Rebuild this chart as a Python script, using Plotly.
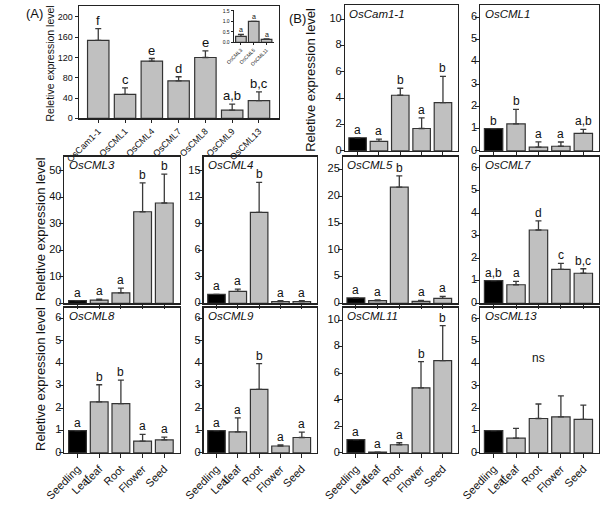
import plotly.graph_objects as go

W, H = 600, 512

# ---------------- data ----------------
genes_A = ["OsCam1-1", "OsCML1", "OsCML4", "OsCML7", "OsCML8", "OsCML9", "OsCML13"]
vals_A = [154, 47, 113, 74, 120, 16, 35]
err_A = [23, 13, 5, 8, 13, 12, 17]
letters_A = ["f", "c", "e", "d", "e", "a,b", "b,c"]

genes_inset = ["OsCML3", "OsCML5", "OsCML11"]
vals_inset = [0.29, 1.0, 0.14]
err_inset = [0.09, None, 0.03]
letters_inset = ["a", "a", "a"]

tissues = ["Seedling<br>Leaf", "Leaf", "Root", "Flower", "Seed"]

cam11_vals = [1.0, 0.72, 4.22, 1.7, 3.66]
cam11_err = [None, 0.18, 0.53, 0.81, 1.99]
cam11_let = ["a", "a", "b", "a", "b"]
cam11_ticks = [0, 2, 4, 6, 8, 10]

cml1_vals = [1.0, 1.21, 0.17, 0.21, 0.79]
cml1_err = [None, 0.65, 0.24, 0.19, 0.18]
cml1_let = ["b", "b", "a", "a", "a,b"]
cml1_ticks = [0, 1, 2, 3, 4, 5, 6]

cml3_vals = [1.0, 1.2, 3.9, 34.6, 37.9]
cml3_err = [None, 0.35, 1.8, 10.9, 10.9]
cml3_let = ["a", "a", "a", "b", "b"]
cml3_ticks = [0, 10, 20, 30, 40, 50]

cml4_vals = [1.0, 1.35, 10.3, 0.2, 0.2]
cml4_err = [None, 0.25, 3.4, 0.1, 0.1]
cml4_let = ["a", "a", "b", "a", "a"]
cml4_ticks = [0, 3, 6, 9, 12, 15]

cml5_vals = [1.0, 0.5, 21.7, 0.35, 0.9]
cml5_err = [None, 0.15, 2.1, 0.2, 0.4]
cml5_let = ["a", "a", "b", "a", "a"]
cml5_ticks = [0, 5, 10, 15, 20, 25]

cml7_vals = [1.0, 0.82, 3.25, 1.5, 1.33]
cml7_err = [None, 0.15, 0.4, 0.27, 0.2]
cml7_let = ["a,b", "a", "d", "c", "b,c"]
cml7_ticks = [0, 1, 2, 3, 4, 5, 6]

cml8_vals = [1.0, 2.28, 2.2, 0.53, 0.58]
cml8_err = [None, 0.76, 1.05, 0.3, 0.13]
cml8_let = ["a", "b", "b", "a", "a"]
cml8_ticks = [0, 1, 2, 3, 4, 5, 6]

cml9_vals = [1.0, 0.94, 2.83, 0.31, 0.69]
cml9_err = [None, 0.62, 1.15, 0.05, 0.24]
cml9_let = ["a", "a", "b", "a", "a"]
cml9_ticks = [0, 1, 2, 3, 4, 5, 6]

cml11_vals = [1.0, 0.07, 0.62, 4.91, 6.96]
cml11_err = [None, None, 0.15, 1.97, 2.63]
cml11_let = ["a", "a", "a", "b", "b"]
cml11_ticks = [0, 2, 4, 6, 8, 10]

cml13_vals = [1.0, 0.66, 1.54, 1.61, 1.5]
cml13_err = [None, 0.44, 0.65, 0.94, 0.64]
cml13_let = [None, None, None, None, None]
cml13_ticks = [0, 1, 2, 3, 4, 5, 6]

ylabel = "Reletive expression level"

# ------------- layout helpers -------------
def xd(a, b):
    return [a / W, b / W]

def yd(top, bottom):
    return [1 - bottom / H, 1 - top / H]

FONT = "Liberation Sans, Arial, sans-serif"
AX = "#222222"
BARGRAY = "#c0c0c0"
EDGE = "#333333"

fig = go.Figure()
layout = dict(
    width=W, height=H, margin=dict(l=0, r=0, t=0, b=0),
    paper_bgcolor="white", plot_bgcolor="rgba(0,0,0,0)", showlegend=False,
    font=dict(family=FONT, color="#111"),
)
annotations = []

def add_panel(idx, vals, errs, letters, cats, xdom, ydom, xrange, yrange, dtick,
              title=None, show_xlabels=False, tickfont=10, letfont=12, mirror=True,
              width=0.82, colors=None, ticklen=4, yfmt=None, xangle=-45, linew=1.3,
              yticks=None):
    xa = "x" if idx == 1 else f"x{idx}"
    ya = "y" if idx == 1 else f"y{idx}"
    n = len(vals)
    xs = list(range(n))
    if colors is None:
        colors = ["black"] + [BARGRAY] * (n - 1)
    arr = [e if e is not None else float("nan") for e in errs]
    fig.add_trace(go.Bar(
        x=xs, y=vals, width=[width] * n, xaxis=xa, yaxis=ya,
        marker=dict(color=colors, line=dict(color=EDGE, width=1.2)),
        error_y=dict(type="data", symmetric=False, array=arr, arrayminus=[0] * n,
                     color="#3a3a3a", thickness=1.3, width=max(2, int(width * 4))),
        hoverinfo="skip",
    ))
    key_x = "xaxis" if idx == 1 else f"xaxis{idx}"
    key_y = "yaxis" if idx == 1 else f"yaxis{idx}"
    layout[key_x] = dict(
        domain=xdom, anchor=ya, range=xrange, tickmode="array", tickvals=xs,
        ticktext=cats if show_xlabels else [""] * n, showticklabels=show_xlabels,
        tickangle=xangle, ticks="outside", ticklen=ticklen, tickcolor=AX, tickwidth=1,
        showline=True, linecolor=AX, linewidth=linew, mirror=mirror, showgrid=False,
        zeroline=False, tickfont=dict(size=tickfont, color="#111", family=FONT),
        fixedrange=True, ticklabeloverflow="allow",
    )
    yax = dict(
        domain=ydom, anchor=xa, range=yrange,
        ticks="outside", ticklen=ticklen, tickcolor=AX, tickwidth=1,
        showline=True, linecolor=AX, linewidth=linew, mirror=mirror, showgrid=False,
        zeroline=False, tickfont=dict(size=tickfont, color="#111", family=FONT),
        fixedrange=True, ticklabeloverflow="allow",
    )
    if yticks is None:
        yax.update(dtick=dtick, tick0=0, showticklabels=True)
    else:
        # tick marks from the axis; label text as a text trace on the same scales
        yax.update(tickmode="array", tickvals=yticks, showticklabels=False)
        fig.add_trace(go.Scatter(
            x=[xrange[0]] * len(yticks), y=yticks, xaxis=xa, yaxis=ya,
            mode="text", text=[f"{t}\u00a0" for t in yticks],
            textposition="middle left", cliponaxis=False, hoverinfo="skip",
            textfont=dict(size=tickfont, color="#111", family=FONT),
        ))
    if yfmt:
        yax["tickformat"] = yfmt
    layout[key_y] = yax
    for i, (v, e, L) in enumerate(zip(vals, errs, letters)):
        if L is None:
            continue
        annotations.append(dict(
            x=i, y=v + (e or 0), xref=xa, yref=ya, text=L, showarrow=False,
            yanchor="bottom", xanchor="center", yshift=-1,
            font=dict(size=letfont, color="#111", family=FONT)))
    if title:
        annotations.append(dict(
            x=0.02, y=0.995, xref=f"{xa} domain", yref=f"{ya} domain",
            text=f"<i>{title}</i>", showarrow=False, xanchor="left", yanchor="top",
            font=dict(size=11.5, color="#111", family=FONT)))

# Panel A
add_panel(1, vals_A, err_A, letters_A, genes_A, xd(61, 268), yd(4, 121),
          [-0.72, 6.75], [0, 222], 40, show_xlabels=True, tickfont=9,
          letfont=13, width=0.8, colors=[BARGRAY] * 7, ticklen=3)
# Inset
add_panel(2, vals_inset, err_inset, letters_inset, genes_inset, xd(221, 263),
          yd(8.2, 42), [-0.57, 2.6], [0, 1.55], 0.5, show_xlabels=True,
          tickfont=5, letfont=7, mirror=False, width=0.83,
          colors=[BARGRAY] * 3, ticklen=2, yfmt=".1f", linew=1)

panels = [
    ("OsCam1-1", cam11_vals, cam11_err, cam11_let, cam11_ticks, (336, 453), (3, 155), [0, 11.07]),
    ("OsCML1", cml1_vals, cml1_err, cml1_let, cml1_ticks, (476, 599), (3, 155), [0, 6.55]),
    ("OsCML3", cml3_vals, cml3_err, cml3_let, cml3_ticks, (46, 165), (161, 313.5), [0, 55.4]),
    ("OsCML4", cml4_vals, cml4_err, cml4_let, cml4_ticks, (190, 307), (161, 313.5), [0, 16.6]),
    ("OsCML5", cml5_vals, cml5_err, cml5_let, cml5_ticks, (334, 453), (161, 313.5), [0, 27.4]),
    ("OsCML7", cml7_vals, cml7_err, cml7_let, cml7_ticks, (476, 599), (161, 313.5), [0, 6.5]),
    ("OsCML8", cml8_vals, cml8_err, cml8_let, cml8_ticks, (46, 165), (318, 469.3), [0, 6.48]),
    ("OsCML9", cml9_vals, cml9_err, cml9_let, cml9_ticks, (190, 307), (318, 469.3), [0, 6.48]),
    ("OsCML11", cml11_vals, cml11_err, cml11_let, cml11_ticks, (334, 453), (318, 469.3), [0, 10.95]),
    ("OsCML13", cml13_vals, cml13_err, cml13_let, cml13_ticks, (476, 599), (318, 469.3), [0, 6.5]),
]
for k, (name, v, e, L, tk, (x0, x1), (y0, y1), yr) in enumerate(panels):
    idx = k + 3
    add_panel(idx, v, e, L, tissues, xd(x0, x1), yd(y0, y1), [-0.6, 4.7], yr, None,
              title=name, show_xlabels=(y1 > 400), tickfont=11, letfont=12, yticks=tk)

# "ns" for OsCML13
annotations.append(dict(x=2, y=4.25, xref="x12", yref="y12", text="ns",
                        showarrow=False, font=dict(size=12, color="#111", family=FONT)))

# y-axis titles and panel labels
def ytitle(xc, yc, size):
    annotations.append(dict(x=xc / W, y=1 - yc / H, xref="paper", yref="paper",
                            text=ylabel, textangle=-90, showarrow=False,
                            xanchor="center", yanchor="middle",
                            font=dict(size=size, color="#111", family=FONT)))

ytitle(31, 64, 10.5)
ytitle(301, 81, 13)
ytitle(21, 236, 13)
ytitle(21, 392, 13)

annotations.append(dict(x=4 / W, y=1 - 12 / H, xref="paper", yref="paper", text="(A)",
                        showarrow=False, xanchor="left", yanchor="middle",
                        font=dict(size=13, color="#111", family=FONT)))
annotations.append(dict(x=276 / W, y=1 - 17 / H, xref="paper", yref="paper", text="(B)",
                        showarrow=False, xanchor="left", yanchor="middle",
                        font=dict(size=13, color="#111", family=FONT)))

layout["annotations"] = annotations
fig.update_layout(**layout)

post = (
    "document.body.style.margin='0';"
    "var gd=document.getElementById('{plot_id}');"
    "Plotly.newPlot(gd, gd.data, gd.layout, {displayModeBar:false, staticPlot:true, responsive:false});"
)
fig.write_html("out.html", config={"displayModeBar": False, "responsive": False},
               post_script=post)
